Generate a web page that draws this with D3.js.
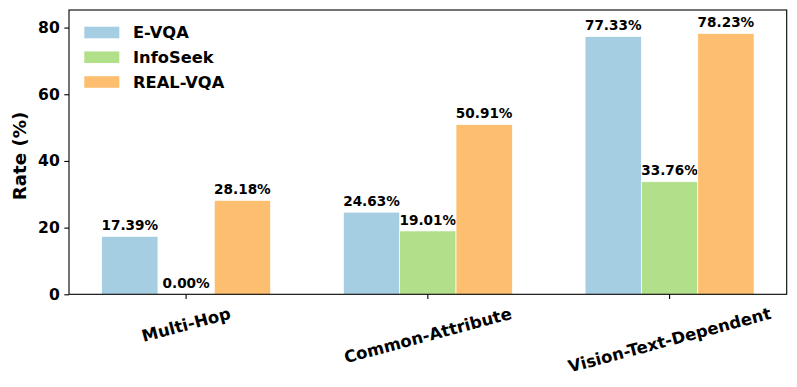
<!DOCTYPE html>
<html>
<head>
<meta charset="utf-8">
<script src="https://cdn.jsdelivr.net/npm/d3@7/dist/d3.min.js"></script>
<style>
  html, body { margin: 0; padding: 0; background: #fff; }
  svg { display: block; font-family: "DejaVu Sans", sans-serif; }
</style>
</head>
<body>
<svg id="chart" width="797" height="387"></svg>
<script>
const categories = ["Multi-Hop", "Common-Attribute", "Vision-Text-Dependent"];
const seriesNames = ["E-VQA", "InfoSeek", "REAL-VQA"];
const eVQA = [17.39, 24.63, 77.33];
const infoSeek = [0.00, 19.01, 33.76];
const realVQA = [28.18, 50.91, 78.23];
const yTicks = [0, 20, 40, 60, 80];
const colors = ["#a6cee3", "#b2df8a", "#fdbf6f"];

const seriesValues = [eVQA, infoSeek, realVQA];

const svg = d3.select("#chart");
const margin = { left: 69, right: 786.7, top: 10, bottom: 294.3 };

const w = 0.233; // bar width in category units
const lo = -1.5 * w - 0.05 * (categories.length - 1 + 3 * w);
const hi = (categories.length - 1) + 1.5 * w + 0.05 * (categories.length - 1 + 3 * w);

const x = d3.scaleLinear().domain([lo, hi]).range([margin.left, margin.right]);
const yMax = d3.max(seriesValues.flat()) * 1.09;
const y = d3.scaleLinear().domain([0, yMax]).range([margin.bottom, margin.top]);

// bars
const g = svg.append("g");
seriesValues.forEach((vals, si) => {
  const off = (si - 1) * w;
  g.selectAll(null).data(vals).enter().append("rect")
    .attr("x", (d, i) => x(i + off - w / 2))
    .attr("width", x(w) - x(0))
    .attr("y", d => y(d))
    .attr("height", d => y(0) - y(d))
    .attr("fill", colors[si])
    .attr("stroke", "#fff")
    .attr("stroke-width", 0.7);
  g.selectAll(null).data(vals).enter().append("text")
    .attr("x", (d, i) => x(i + off))
    .attr("y", d => y(d) - 6.3)
    .attr("text-anchor", "middle")
    .attr("font-size", "13.6px")
    .attr("font-weight", "bold")
    .attr("fill", "#000")
    .text(d => d.toFixed(2) + "%");
});

// frame
svg.append("rect")
  .attr("x", margin.left).attr("y", margin.top)
  .attr("width", margin.right - margin.left)
  .attr("height", margin.bottom - margin.top)
  .attr("fill", "none").attr("stroke", "#000").attr("stroke-width", 1.1);

// y axis
const yAxis = d3.axisLeft(y).tickValues(yTicks).tickSize(4.7).tickPadding(4.5).tickFormat(d3.format("d"));
const ya = svg.append("g").attr("transform", `translate(${margin.left},0)`).call(yAxis);
ya.select(".domain").remove();
ya.selectAll("line").attr("stroke", "#000").attr("stroke-width", 1.1);
ya.selectAll("text").attr("font-size", "15.6px").attr("font-weight", "bold")
  .attr("font-family", "DejaVu Sans").attr("fill", "#000");

// x axis ticks
const xa = svg.append("g");
const xfs = 16.5;
categories.forEach((c, i) => {
  xa.append("line")
    .attr("x1", x(i)).attr("x2", x(i))
    .attr("y1", margin.bottom).attr("y2", margin.bottom + 4.7)
    .attr("stroke", "#000").attr("stroke-width", 1.1);
  const t = xa.append("text")
    .attr("text-anchor", "middle")
    .attr("font-size", xfs + "px")
    .attr("font-weight", "bold")
    .attr("fill", "#000")
    .text(c);
  const L = t.node().getComputedTextLength();
  const h = xfs * 1.164;
  const th = 15 * Math.PI / 180;
  const H = L * Math.sin(th) + h * Math.cos(th);
  const cx = x(i), cy = margin.bottom + 9.4 + H / 2;
  t.attr("x", 0).attr("y", 0).attr("dy", "0.346em")
    .attr("transform", `translate(${cx},${cy}) rotate(-15)`);
});

// y label
svg.append("text")
  .attr("transform", `translate(26,156) rotate(-90)`)
  .attr("text-anchor", "middle")
  .attr("font-size", "18.2px")
  .attr("font-weight", "bold")
  .attr("fill", "#000")
  .text("Rate (%)");

// legend
const leg = svg.append("g");
seriesNames.forEach((n, i) => {
  const cy = 32.5 + i * 24.75;
  leg.append("rect")
    .attr("x", 84.3).attr("y", cy - 5.8)
    .attr("width", 35).attr("height", 11.6)
    .attr("fill", colors[i]);
  leg.append("text")
    .attr("x", 133).attr("y", cy).attr("dy", "0.36em")
    .attr("font-size", "16.3px").attr("font-weight", "bold").attr("fill", "#000")
    .text(n);
});
</script>
</body>
</html>
